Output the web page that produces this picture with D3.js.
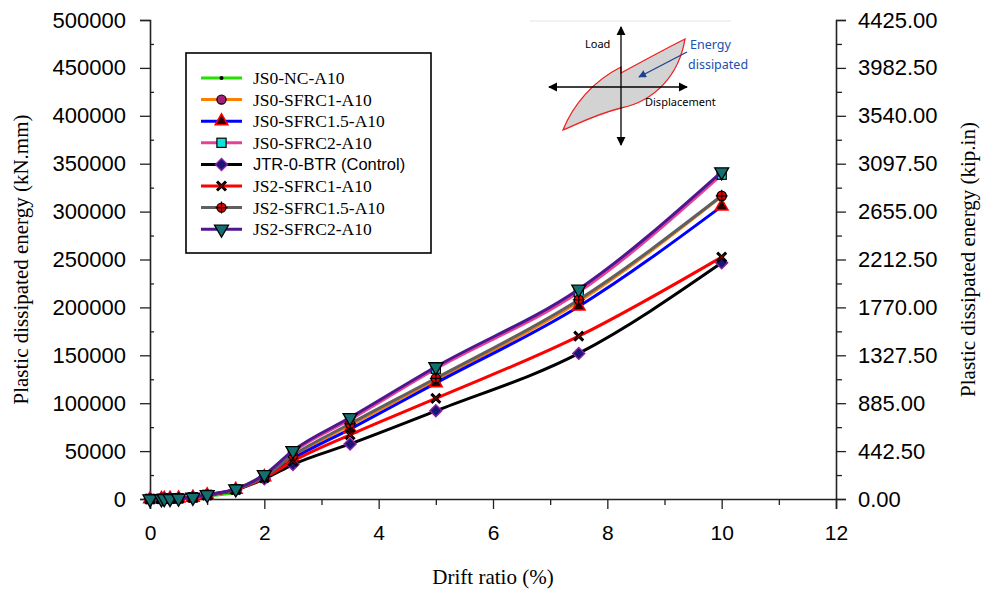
<!DOCTYPE html>
<html>
<head>
<meta charset="utf-8">
<script src="https://cdn.jsdelivr.net/npm/d3@7"></script>
<style>
  body { margin: 0; background: #fff; }
  svg { display: block; }
  .tick text { font-family: "Liberation Sans", Arial, sans-serif; }
</style>
</head>
<body>
<svg id="chart" width="985" height="594" viewBox="0 0 985 594"></svg>
<script>
// --- Data ---------------------------------------
var driftRatio = [0, 0.2, 0.25, 0.35, 0.5, 0.75, 1.0, 1.5, 2.0, 2.5, 3.5, 5.0, 7.5, 10.0];

var jsoNC      = [0, 100, 150, 250, 400, 1100, 2800, 6500];
var jsoSfrc1   = [0, 200, 300, 450, 750, 1600, 4000, 9800, 23500, 44500, 77000, 124000, 206000, 316000];
var jsoSfrc15  = [0, 200, 300, 450, 750, 1600, 4000, 9800, 23000, 42000, 73000, 121000, 201000, 305500];
var jsoSfrc2   = [0, 200, 300, 500, 800, 1700, 4300, 10200, 24500, 49000, 83000, 136000, 216000, 338500];
var control    = [0, 150, 250, 400, 700, 1500, 3800, 9500, 21000, 36000, 57500, 92000, 152000, 246500];
var js2Sfrc1   = [0, 150, 250, 400, 700, 1500, 3900, 9600, 22000, 39500, 67000, 105000, 170000, 252500];
var js2Sfrc15  = [0, 200, 300, 450, 750, 1600, 4100, 10000, 23500, 45500, 78500, 126000, 208000, 316500];
var js2Sfrc2   = [0, 200, 300, 500, 800, 1800, 4500, 10500, 25500, 50500, 85000, 138000, 219000, 341500];

var seriesNames = ["JS0-NC-A10", "JS0-SFRC1-A10", "JS0-SFRC1.5-A10", "JS0-SFRC2-A10",
                   "JTR-0-BTR (Control)", "JS2-SFRC1-A10", "JS2-SFRC1.5-A10", "JS2-SFRC2-A10"];
var seriesValues = [jsoNC, jsoSfrc1, jsoSfrc15, jsoSfrc2, control, js2Sfrc1, js2Sfrc15, js2Sfrc2];

var xTicks = [0, 2, 4, 6, 8, 10, 12];
var yTicks = [0, 50000, 100000, 150000, 200000, 250000, 300000, 350000, 400000, 450000, 500000];
var kNmmToKipIn = 0.00885;

// line colour + marker style per series
var styles = [
  {line: "#22e000", marker: "dot"},
  {line: "#ff7f00", marker: "circle"},
  {line: "#0000ff", marker: "triangle"},
  {line: "#e8409a", marker: "square"},
  {line: "#000000", marker: "diamond"},
  {line: "#ff0000", marker: "cross"},
  {line: "#606060", marker: "oplus"},
  {line: "#4b1890", marker: "tridown"}
];

var margin = {top: 20, right: 149, bottom: 95, left: 150};
var W = 985, H = 594;

var svg = d3.select("#chart");

var x = d3.scaleLinear().domain([0, 12]).range([margin.left, W - margin.right]);
var y = d3.scaleLinear().domain([0, 500000]).range([H - margin.bottom, margin.top]);
var y2 = d3.scaleLinear().domain([0, 500000 * kNmmToKipIn]).range(y.range());

// --- Markers ------------------------------------
function drawMarker(g, kind) {
  if (kind == "dot") {
    g.append("circle").attr("r", 2).attr("fill", "#000");
  } else if (kind == "circle") {
    g.append("circle").attr("r", 4.6).attr("fill", "#a3207a").attr("stroke", "#000").attr("stroke-width", 1.2);
  } else if (kind == "triangle") {
    g.append("path").attr("d", d3.symbol(d3.symbolTriangle, 70)())
      .attr("fill", "#2a0000").attr("stroke", "#ff0000").attr("stroke-width", 1.5);
  } else if (kind == "square") {
    g.append("rect").attr("x", -4.6).attr("y", -4.6).attr("width", 9.2).attr("height", 9.2)
      .attr("fill", "#10e0e0").attr("stroke", "#000").attr("stroke-width", 1.2);
  } else if (kind == "diamond") {
    g.append("path").attr("d", "M0,-6L6,0L0,6L-6,0Z")
      .attr("fill", "#17177a").attr("stroke", "#9020a0").attr("stroke-width", 1.4);
  } else if (kind == "cross") {
    g.append("path").attr("d", "M-4.5,-4.5L4.5,4.5M-4.5,4.5L4.5,-4.5")
      .attr("stroke", "#000").attr("stroke-width", 3);
    g.append("path").attr("d", "M-2.5,-2.5L2.5,2.5M-2.5,2.5L2.5,-2.5")
      .attr("stroke", "#c00000").attr("stroke-width", 0.9);
  } else if (kind == "oplus") {
    g.append("circle").attr("r", 4.6).attr("fill", "#e00000").attr("stroke", "#000").attr("stroke-width", 1.2);
    g.append("path").attr("d", "M-6,0L6,0M0,-6L0,6").attr("stroke", "#000").attr("stroke-width", 1.2);
  } else if (kind == "tridown") {
    g.append("path").attr("d", d3.symbol(d3.symbolTriangle, 85)())
      .attr("transform", "rotate(180)")
      .attr("fill", "#147070").attr("stroke", "#000").attr("stroke-width", 1.3);
  }
}

// --- Axes ---------------------------------------
var tickFont = 22;

// left axis
var leftAxis = svg.append("g")
  .attr("transform", "translate(" + margin.left + ",0)")
  .call(d3.axisLeft(y).tickValues(yTicks).tickSize(10).tickPadding(14).tickFormat(d3.format("d")));
svg.append("g")
  .attr("transform", "translate(" + margin.left + ",0)")
  .call(d3.axisRight(y).tickValues(d3.range(25000, 500000, 50000)).tickSize(4).tickFormat(""))
  .call(g => g.select(".domain").remove());

// right axis (kip.in)
var rightAxis = svg.append("g")
  .attr("transform", "translate(" + (W - margin.right) + ",0)")
  .call(d3.axisRight(y2).tickValues(yTicks.map(v => v * kNmmToKipIn)).tickSize(10).tickPadding(12).tickFormat(d3.format(".2f")));
svg.append("g")
  .attr("transform", "translate(" + (W - margin.right) + ",0)")
  .call(d3.axisRight(y).tickValues(d3.range(25000, 500000, 50000)).tickSize(6).tickFormat(""))
  .call(g => g.select(".domain").remove());

// bottom axis
var bottomAxis = svg.append("g")
  .attr("transform", "translate(0," + (H - margin.bottom) + ")")
  .call(d3.axisBottom(x).tickValues(xTicks).tickSize(10).tickPadding(16));
svg.append("g")
  .attr("transform", "translate(0," + (H - margin.bottom) + ")")
  .call(d3.axisBottom(x).tickValues([1, 3, 5, 7, 9, 11]).tickSize(6).tickFormat(""))
  .call(g => g.select(".domain").remove());

svg.selectAll(".domain").attr("stroke", "#222").attr("stroke-width", 1.6);
svg.selectAll(".tick line").attr("stroke", "#222").attr("stroke-width", 1.3);
svg.selectAll(".tick text").attr("font-size", tickFont).attr("fill", "#000");
bottomAxis.selectAll(".tick text").attr("font-size", 21);

// axis titles
var serif = "'Liberation Serif', 'Times New Roman', serif";
svg.append("text")
  .attr("transform", "translate(28," + y(250000) + ")rotate(-90)")
  .attr("text-anchor", "middle")
  .style("font-family", serif)
  .style("font-size", "21px")
  .text("Plastic dissipated energy (kN.mm)");

svg.append("text")
  .attr("transform", "translate(975," + y(250000) + ")rotate(-90)")
  .attr("text-anchor", "middle")
  .style("font-family", serif)
  .style("font-size", "21px")
  .text("Plastic dissipated energy (kip.in)");

svg.append("text")
  .attr("x", x(6))
  .attr("y", 584)
  .attr("text-anchor", "middle")
  .style("font-family", serif)
  .style("font-size", "21px")
  .text("Drift ratio (%)");

// --- Series -------------------------------------
var line = d3.line()
  .curve(d3.curveMonotoneX)
  .x(d => x(d[0]))
  .y(d => y(d[1]));

seriesValues.forEach(function(vals, i) {
  var pts = vals.map((v, j) => [driftRatio[j], v]);
  var g = svg.append("g").attr("class", "series");
  g.append("path")
    .datum(pts)
    .attr("fill", "none")
    .attr("stroke", styles[i].line)
    .attr("stroke-width", 3)
    .attr("stroke-linejoin", "round")
    .attr("d", line);
  pts.forEach(function(p) {
    var m = g.append("g").attr("transform", "translate(" + x(p[0]) + "," + y(p[1]) + ")");
    drawMarker(m, styles[i].marker);
  });
});

// --- Legend -------------------------------------
var legend = svg.append("g").attr("transform", "translate(186,53)");
legend.append("rect")
  .attr("width", 245).attr("height", 200)
  .attr("fill", "#fff").attr("stroke", "#000").attr("stroke-width", 1.6);

seriesNames.forEach(function(name, i) {
  var row = legend.append("g").attr("transform", "translate(0," + (25 + i * 21.6) + ")");
  row.append("line")
    .attr("x1", 15).attr("x2", 56)
    .attr("stroke", styles[i].line).attr("stroke-width", 3);
  drawMarker(row.append("g").attr("transform", "translate(35.5,0)"), styles[i].marker);
  row.append("text")
    .attr("x", 67).attr("dy", "0.35em")
    .style("font-family", name.indexOf("Control") >= 0 ?
      "'Liberation Sans', Arial, sans-serif" : serif)
    .style("font-size", name.indexOf("Control") >= 0 ? "16.5px" : "17.5px")
    .text(name);
});

// --- Inset: energy dissipation sketch -----------
var inset = svg.append("g").attr("transform", "translate(621,87)");
var defs = svg.append("defs");
defs.append("marker")
  .attr("id", "arrowBlack").attr("viewBox", "0 0 10 10")
  .attr("refX", 9).attr("refY", 5)
  .attr("markerWidth", 7).attr("markerHeight", 7)
  .attr("orient", "auto-start-reverse")
  .append("path").attr("d", "M0,0L10,5L0,10Z").attr("fill", "#000");
defs.append("marker")
  .attr("id", "arrowBlue").attr("viewBox", "0 0 10 10")
  .attr("refX", 9).attr("refY", 5)
  .attr("markerWidth", 6).attr("markerHeight", 6)
  .attr("orient", "auto")
  .append("path").attr("d", "M0,0L10,5L0,10Z").attr("fill", "#1f3f8f");

inset.append("line").attr("x1", -91).attr("x2", 110).attr("y1", -66).attr("y2", -66)
  .attr("stroke", "#e2e2e2").attr("stroke-width", 1);

inset.append("path")
  .attr("d", "M-58,43C-48,18 -28,-6 0,-20L0,-14C22,-26 44,-38 64,-48C58,-12 34,14 0,21C-24,27 -44,37 -58,43Z")
  .attr("fill", "#d3d3d3").attr("stroke", "#ee2020").attr("stroke-width", 1.3);

inset.append("line").attr("x1", -72).attr("x2", 66).attr("y1", 0).attr("y2", 0)
  .attr("stroke", "#000").attr("stroke-width", 1.3)
  .attr("marker-start", "url(#arrowBlack)").attr("marker-end", "url(#arrowBlack)");
inset.append("line").attr("x1", 0).attr("x2", 0).attr("y1", -60).attr("y2", 58)
  .attr("stroke", "#000").attr("stroke-width", 1.3)
  .attr("marker-start", "url(#arrowBlack)").attr("marker-end", "url(#arrowBlack)");

inset.append("line").attr("x1", 66).attr("y1", -35).attr("x2", 18).attr("y2", -10)
  .attr("stroke", "#1f3f8f").attr("stroke-width", 1.3)
  .attr("marker-end", "url(#arrowBlue)");

var insetFont = "'Noto Sans', 'DejaVu Sans', sans-serif";
inset.append("text").attr("x", -36).attr("y", -39).text("Load")
  .style("font-family", insetFont).style("font-size", "11px");
inset.append("text").attr("x", 24).attr("y", 19).text("Displacement")
  .style("font-family", insetFont).style("font-size", "11px");
inset.append("text").attr("x", 69).attr("y", -38).text("Energy")
  .style("font-family", insetFont).style("font-size", "12.5px").attr("fill", "#2050b0");
inset.append("text").attr("x", 67).attr("y", -18).text("dissipated")
  .style("font-family", insetFont).style("font-size", "12.5px").attr("fill", "#2050b0");
</script>
</body>
</html>
